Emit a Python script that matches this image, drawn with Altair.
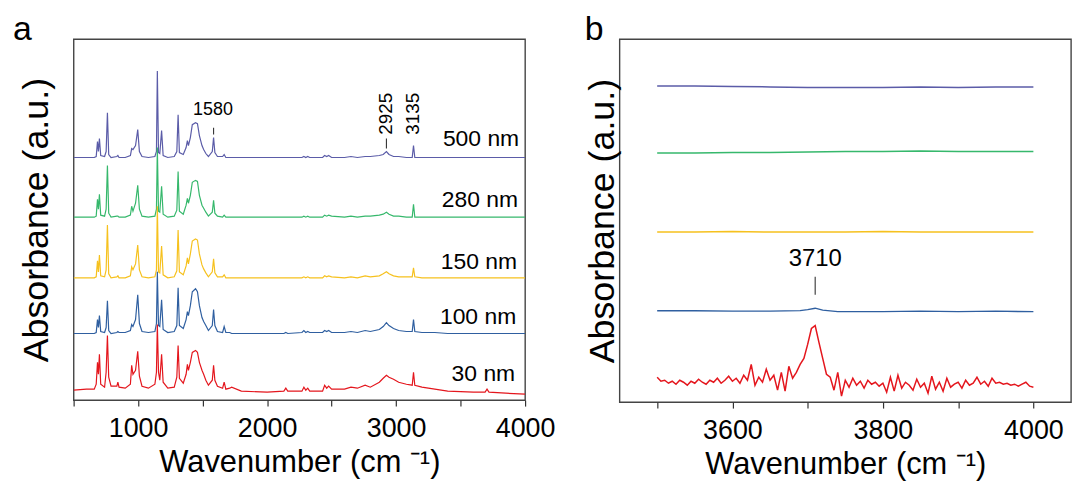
import altair as alt
import pandas as pd

FONT = "Liberation Sans"

SERIES = ["500 nm", "280 nm", "150 nm", "100 nm", "30 nm"]
COLORS = ["#5b5ca8", "#36b86c", "#f6c11e", "#2f5fa0", "#e4161d"]
PANEL_TAGS = ["a", "b"]

# ---------------- panel a: full spectra (height above own baseline, a.u. x100)
OFFSET_A = [244, 184, 123, 67, 8]

X_A = [
    500, 600, 660, 675, 685, 692, 700, 710, 740, 752,
    762, 772, 790, 835, 843, 852, 900, 940, 950, 960,
    980, 997, 1010, 1030, 1080, 1130, 1142, 1149, 1158, 1168,
    1182, 1194, 1230, 1280, 1300, 1310, 1320, 1350, 1372, 1382,
    1390, 1405, 1420, 1445, 1460, 1475, 1495, 1508, 1525, 1545,
    1575, 1585, 1595, 1615, 1655, 1667, 1680, 1710, 1725, 1800,
    2000, 2130, 2145, 2160, 2270, 2285, 2300, 2315, 2330, 2430,
    2446, 2462, 2477, 2500, 2600, 2650, 2700, 2760, 2800, 2870,
    2900, 2925, 2945, 2980, 3020, 3080, 3125, 3135, 3145, 3200,
    3300, 3400, 3600, 3690, 3705, 3720, 3850, 4000,
]

A_500 = [
    0, 0, 0, 1, 16, 6, 19, 2, 1, 6,
    45, 3, 0, 1, 2, 0, 0, 2, 9, 8,
    12, 28, 6, 1, 0, 1, 6, 87, 5, 4,
    27, 2, 0, 1, 6, 43, 5, 3, 10, 17,
    12, 20, 33, 35, 34, 22, 12, 8, 4, 1,
    6, 20, 5, 1, 1, 3, 0, 0, 0, 0,
    0, 0, 0, 0, 0, 1, 0, 1, 0, 0,
    2, 1, 2, 0, 0, 1, 0, 1, 1, 2,
    3, 6, 3, 1, 1, 0, 0, 12, 0, 0,
    0, 0, 0, 0, 0, 0, 0, 0,
]
A_280 = [
    0, 0, 0, 1, 18, 8, 23, 2, 1, 8,
    52, 4, 0, 1, 1, 0, 0, 2, 11, 6,
    14, 32, 8, 1, 0, 1, 8, 70, 6, 5,
    31, 3, 0, 1, 7, 46, 6, 3, 12, 19,
    14, 22, 35, 37, 36, 22, 12, 9, 5, 1,
    5, 17, 4, 1, 0, 2, 0, 0, 0, 0,
    0, 0, 0, 0, 0, 1, 0, 1, 0, 0,
    2, 1, 2, 1, 0, 1, 0, 1, 1, 2,
    3, 5, 3, 1, 1, 0, 0, 13, 0, 0,
    0, 0, 0, 0, 0, 0, 0, 0,
]
A_150 = [
    0, 0, 0, 1, 17, 6, 23, 2, 1, 8,
    53, 4, 0, 1, 2, 0, 0, 2, 11, 8,
    14, 33, 8, 1, 0, 1, 8, 72, 6, 5,
    32, 3, 0, 1, 7, 48, 6, 3, 12, 20,
    14, 24, 37, 39, 38, 24, 13, 9, 5, 1,
    6, 19, 5, 1, 1, 3, 0, 0, 0, 0,
    0, 0, 0, 0, 0, 1, 0, 1, 0, 0,
    2, 1, 2, 1, 0, 1, 0, 2, 1, 2,
    4, 6, 4, 2, 1, 1, 1, 10, 1, 0,
    0, 0, 0, 0, 0, 0, 0, 0,
]
A_100 = [
    0, 0, 0, 1, 14, 6, 18, 2, 1, 6,
    33, 3, 0, 1, 2, 1, 1, 3, 9, 7,
    14, 39, 10, 2, 1, 2, 10, 62, 8, 7,
    34, 4, 1, 2, 8, 46, 8, 5, 14, 22,
    18, 28, 42, 45, 42, 28, 16, 12, 8, 3,
    8, 24, 8, 2, 1, 7, 1, 1, 0, 0,
    0, 0, 1, 0, 1, 3, 1, 2, 1, 1,
    3, 2, 3, 1, 1, 2, 1, 3, 2, 4,
    7, 11, 8, 5, 3, 2, 2, 14, 2, 1,
    1, 0, 0, 0, 0, 0, 0, 0,
]
A_30 = [
    2, 3, 3, 8, 30, 18, 38, 8, 5, 20,
    57, 15, 6, 6, 10, 5, 4, 8, 27, 18,
    22, 41, 16, 6, 4, 8, 20, 68, 20, 12,
    38, 10, 4, 5, 15, 47, 14, 9, 18, 28,
    22, 30, 40, 42, 40, 30, 22, 18, 12, 7,
    12, 27, 12, 6, 4, 10, 3, 4, 5, 1,
    0, 1, 4, 1, 1, 5, 2, 4, 1, 1,
    7, 4, 6, 3, 3, 5, 4, 7, 5, 10,
    14, 17, 15, 13, 10, 8, 7, 20, 7, 5,
    3, 1, 0, 0, 3, 0, -1, -2,
]

LABEL_X_A = [3954, 3946, 3938, 3931, 3923]
LABEL_Y_A = [263, 201, 139, 84, 26]

PEAK_H_TEXT = ["1580"]
PEAK_H_X = [1580]
PEAK_H_Y = [292]
PEAK_V_TEXT = ["2925", "3135"]
PEAK_V_X = [2923, 3135]
PEAK_V_Y = [288, 288]
MARK_A_X = [1585, 2925]
MARK_A_Y = [267, 253]
MARK_A_Y2 = [274, 263]

# ---------------- panel b: 3500-4000 region (a.u. x100)
X_B = [3500, 3550, 3600, 3650, 3700, 3750, 3800, 3850, 3900, 3950, 4000]
B_500 = [318, 318, 317.5, 317, 316.5, 316.5, 316.5, 317, 316.5, 317, 317]
B_280 = [250.5, 250.5, 251, 251, 251.5, 252, 252, 252.5, 252, 252, 252]
B_150 = [171, 171, 171.5, 171, 171, 171, 171.5, 171, 171, 171, 171]
X_B_100 = [3500, 3550, 3600, 3650, 3690, 3700, 3710, 3720, 3740, 3800, 3850, 3900, 3950, 4000]
B_100 = [92, 92, 91.5, 91.5, 92, 93, 94.5, 92.5, 91, 91, 91.5, 91, 91.5, 91]
X_B_30 = [
    3500, 3505, 3510, 3515, 3520, 3525, 3530, 3535, 3540, 3545,
    3550, 3555, 3560, 3565, 3570, 3575, 3580, 3585, 3590, 3595,
    3600, 3605, 3610, 3615, 3620, 3625, 3630, 3635, 3640, 3645,
    3650, 3655, 3660, 3665, 3670, 3675, 3680, 3685, 3690, 3695,
    3700, 3705, 3710, 3715, 3720, 3725, 3730, 3735, 3740, 3745,
    3750, 3755, 3760, 3765, 3770, 3775, 3780, 3785, 3790, 3795,
    3800, 3805, 3810, 3815, 3820, 3825, 3830, 3835, 3840, 3845,
    3850, 3855, 3860, 3865, 3870, 3875, 3880, 3885, 3890, 3895,
    3900, 3905, 3910, 3915, 3920, 3925, 3930, 3935, 3940, 3945,
    3950, 3955, 3960, 3965, 3970, 3975, 3980, 3985, 3990, 3995,
    4000,
]
B_30 = [
    25, 21, 22, 19, 21, 18, 22, 20, 17, 21,
    19, 23, 20, 18, 22, 20, 24, 19, 22, 26,
    21, 24, 19, 27, 22, 38, 17, 25, 20, 33,
    22, 27, 12, 30, 11, 36, 24, 30, 38, 44,
    58, 74, 77, 60, 44, 28, 25, 12, 30, 6,
    22, 15, 24, 17, 21, 14, 22, 18, 20, 16,
    19, 10, 25, 11, 27, 14, 20, 17, 12, 23,
    15, 19, 9, 26, 13, 20, 11, 24, 15, 18,
    20, 14, 22, 17, 19, 25, 18, 21, 16, 24,
    19, 20, 18, 19, 17, 18, 16, 18, 20, 16,
    15,
]
PEAK_B_TEXT = ["3710"]
PEAK_B_X = [3710]
PEAK_B_Y = [144]
MARK_B_X = [3710]
MARK_B_Y = [108]
MARK_B_Y2 = [126]

# ---------------- tables
rows = []
for name, off, ys in zip(SERIES, OFFSET_A, [A_500, A_280, A_150, A_100, A_30]):
    for x, y in zip(X_A, ys):
        rows.append({"series": name, "wn": x, "ab": y + off})
df_a = pd.DataFrame(rows)

rows = []
for name, xs, ys in zip(SERIES, [X_B, X_B, X_B, X_B_100, X_B_30], [B_500, B_280, B_150, B_100, B_30]):
    for x, y in zip(xs, ys):
        rows.append({"series": name, "wn": x, "ab": y})
df_b = pd.DataFrame(rows)

df_lab_a = pd.DataFrame({"t": SERIES, "wn": LABEL_X_A, "ab": LABEL_Y_A})
df_ph = pd.DataFrame({"t": PEAK_H_TEXT, "wn": PEAK_H_X, "ab": PEAK_H_Y})
df_pv = pd.DataFrame({"t": PEAK_V_TEXT, "wn": PEAK_V_X, "ab": PEAK_V_Y})
df_ma = pd.DataFrame({"wn": MARK_A_X, "ab": MARK_A_Y, "ab2": MARK_A_Y2})
df_pb = pd.DataFrame({"t": PEAK_B_TEXT, "wn": PEAK_B_X, "ab": PEAK_B_Y})
df_mb = pd.DataFrame({"wn": MARK_B_X, "ab": MARK_B_Y, "ab2": MARK_B_Y2})

color = alt.Color("series:N", scale=alt.Scale(domain=SERIES, range=COLORS), legend=None)


def x_axis(values, expr):
    return alt.Axis(
        values=values, format="d", labelExpr=expr, title="Wavenumber (cm \u207b\u00b9)",
        grid=False, domain=False, ticks=True, tickSize=6, tickWidth=1.2, tickColor="#333",
        labelFont=FONT, labelFontSize=27, labelColor="black", labelPadding=10,
        labelFlush=False, labelOverlap=False,
        titleFont=FONT, titleFontSize=31, titleFontWeight="normal", titleColor="black",
        titlePadding=6,
    )


def y_axis(pad):
    return alt.Axis(
        title="Absorbance (a.u.)", labels=False, ticks=False, domain=False, grid=False,
        titleFont=FONT, titleFontSize=36, titleFontWeight="normal", titleColor="black",
        titleBaseline="alphabetic", titlePadding=pad,
    )


def build_panel(df, xdom, ydom, xax, yax, width, texts, rules, tag, tag_dx):
    xs = alt.Scale(domain=xdom, nice=False, zero=False)
    ys = alt.Scale(domain=ydom, nice=False, zero=False)
    X = alt.X("wn:Q", scale=xs, axis=xax)
    Y = alt.Y("ab:Q", scale=ys, axis=yax)
    layers = [
        alt.Chart(df).mark_line(strokeWidth=width, clip=True).encode(
            x=X, y=Y, color=color, detail="series:N")
    ]
    for d in rules:
        layers.append(alt.Chart(d).mark_rule(color="#333", strokeWidth=1.1).encode(
            x=X, y=Y, y2="ab2:Q"))
    for d, props in texts:
        layers.append(alt.Chart(d).mark_text(font=FONT, color="black", **props).encode(
            x=X, y=Y, text="t:N"))
    layers.append(
        alt.Chart(pd.DataFrame({"t": [tag]})).mark_text(
            font=FONT, fontSize=34, color="black", align="left", baseline="alphabetic"
        ).encode(x=alt.value(tag_dx), y=alt.value(1), text="t:N")
    )
    return alt.layer(*layers)


XS_A = [500, 1000, 1500, 2000, 2500, 3000, 3500, 4000]
panel_a = build_panel(
    df_a, [500, 4000], [0, 363],
    x_axis(XS_A, "datum.value % 1000 === 0 ? datum.label : ''"), y_axis(26), 1.2,
    [
        (df_ph, dict(fontSize=18, align="center", baseline="middle")),
        (df_pv, dict(fontSize=19, align="center", baseline="middle", angle=270)),
        (df_lab_a, dict(fontSize=23, align="right", baseline="middle")),
    ],
    [df_ma], PANEL_TAGS[0], -61,
).properties(width=454, height=363)

XS_B = [3500, 3600, 3700, 3800, 3900, 4000]
panel_b = build_panel(
    df_b, [3450, 4050], [0, 365],
    x_axis(XS_B, "datum.value % 200 === 0 ? datum.label : ''"), y_axis(6), 1.5,
    [(df_pb, dict(fontSize=24, align="center", baseline="middle"))],
    [df_mb], PANEL_TAGS[1], -35,
).properties(width=454, height=365)

chart = (
    alt.hconcat(panel_a, panel_b, spacing=28)
    .properties(padding={"left": 4, "top": 3, "right": 0, "bottom": 0})
    .configure_view(stroke="#444", strokeWidth=1.4)
)

chart.save("out.html", embed_options={"renderer": "svg", "actions": False})
